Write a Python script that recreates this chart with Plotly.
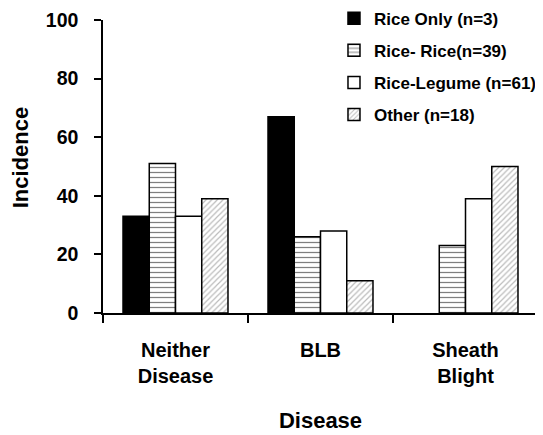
import plotly.graph_objects as go

categories = ["Neither<br>Disease", "BLB", "Sheath<br>Blight"]
series_names = ["Rice Only (n=3)", "Rice- Rice(n=39)", "Rice-Legume (n=61)", "Other (n=18)"]
rice_only = [33, 67, 0]
rice_rice = [51, 26, 23]
rice_legume = [33, 28, 39]
other = [39, 11, 50]
y_ticks = [0, 20, 40, 60, 80, 100]

FONT = "Liberation Sans, Arial, sans-serif"

styles = [
    dict(color="black", pattern=dict(shape="")),
    dict(color="white", pattern=dict(shape="-", fgcolor="black", bgcolor="white", size=5, solidity=0.25, fillmode="overlay")),
    dict(color="white", pattern=dict(shape="")),
    dict(color="white", pattern=dict(shape="/", fgcolor="#777777", bgcolor="white", size=4, solidity=0.3, fillmode="overlay")),
]

fig = go.Figure()
for i, (name, vals) in enumerate(zip(series_names, [rice_only, rice_rice, rice_legume, other])):
    st = styles[i]
    fig.add_trace(go.Bar(
        x=categories, y=vals, name=name, legendgroup=f"g{i}",
        marker=dict(color=st["color"], pattern=st["pattern"],
                    line=dict(color="black", width=[1.5 if v > 0 else 0 for v in vals])),
    ))

fig.update_layout(
    width=543, height=435,
    margin=dict(l=95, r=13, t=12, b=130, autoexpand=False),
    paper_bgcolor="white", plot_bgcolor="white",
    barmode="group", bargap=0.276, bargroupgap=0,
    font=dict(family=FONT, color="black"),
    legend=dict(
        x=0.531, y=1.066, xanchor="left", yanchor="top",
        font=dict(size=17, family=FONT, color="black", weight="bold"),
        tracegroupgap=7, itemwidth=30, bgcolor="rgba(0,0,0,0)",
    ),
    xaxis=dict(
        type="category", tickson="boundaries", ticks="outside", ticklen=8,
        tickwidth=1.5, tickcolor="black", showline=True, linecolor="black", linewidth=1.5,
        tickfont=dict(size=20, family=FONT, weight="bold"), ticklabelstandoff=18,
        title=dict(text="Disease", font=dict(size=22, family=FONT, weight="bold"), standoff=27),
        showgrid=False, zeroline=False, automargin=False,
    ),
    yaxis=dict(
        range=[0, 100], tickvals=y_ticks, ticks="outside", ticklen=7,
        tickwidth=1.5, tickcolor="black", showline=True, linecolor="black", linewidth=1.5,
        tickfont=dict(size=19.5, family=FONT, weight="bold"), ticklabelstandoff=12,
        showgrid=False, zeroline=False, automargin=False,
    ),
    annotations=[dict(
        text="Incidence", textangle=-90, xref="paper", yref="paper",
        x=-0.189, y=0.5307, xanchor="center", yanchor="middle", showarrow=False,
        font=dict(size=22, family=FONT, weight="bold", color="black"),
    )],
)

fig.write_html("out.html")
